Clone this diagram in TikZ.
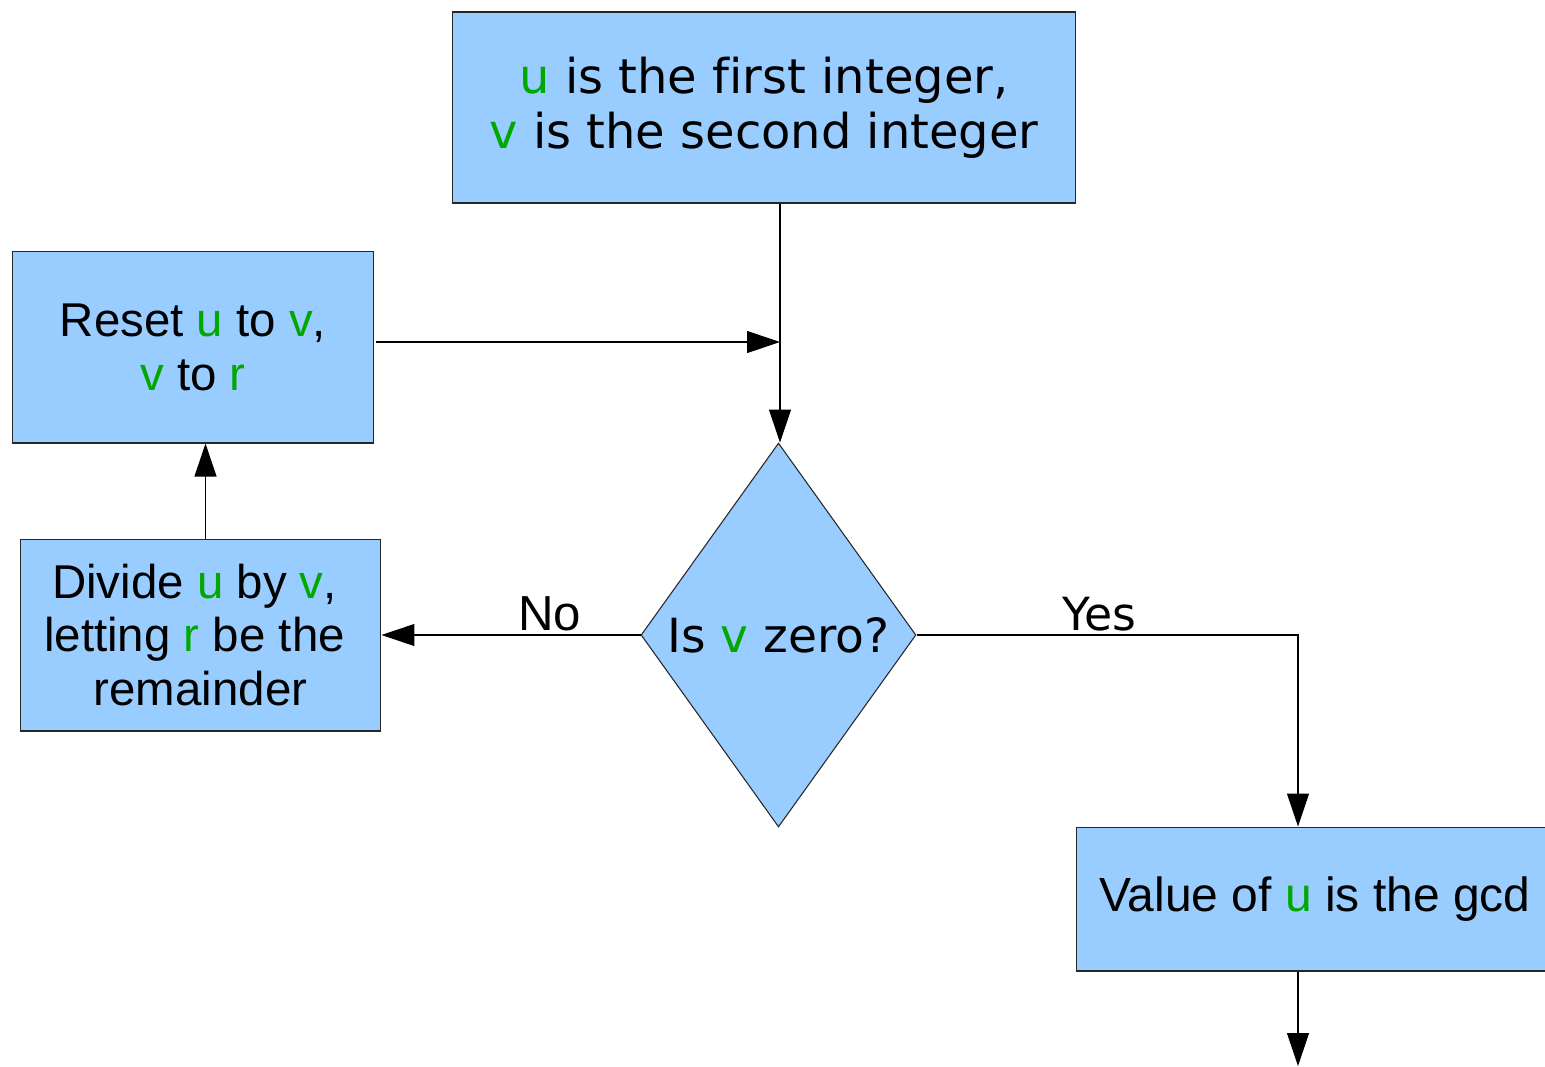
\documentclass[tikz,border=0pt]{standalone}
\usepackage{fontspec}
\setmainfont{Liberation Sans}
\newfontfamily\dejavu[Ligatures=NoCommon]{DejaVu Sans}
\usetikzlibrary{arrows.meta,shapes.geometric}
\definecolor{boxblue}{HTML}{99CCFF}
\definecolor{vargreen}{HTML}{00A800}
\newcommand{\gvar}[1]{\textcolor{vargreen}{#1}}
\newcommand{\tailgap}{\rule{0.24cm}{0pt}}
\tikzset{>={Triangle[length=0.66cm,width=0.44cm]},
    stepbox/.style={draw=black!85, fill=boxblue, line width=0.6pt, align=center, inner sep=0pt,
        font=\fontsize{27}{30.7}\selectfont},
    decision/.style={diamond, aspect=0.716, draw=black!85, fill=boxblue, line width=0.6pt,
        inner sep=0pt, minimum width=5.5cm, minimum height=7.68cm, font=\dejavu\fontsize{26.8}{30}\selectfont},
    flow/.style={->, line width=0.6pt},
    answer/.style={above, inner sep=2pt}}

\begin{document}
\begin{tikzpicture}[x=0.02cm, y=-0.02cm]

    \useasboundingbox (0,0) rectangle (1545,1066);

    % boxes of the loop
    \node[stepbox, minimum width=12.48cm, minimum height=3.82cm,
        font=\dejavu\fontsize{27.3}{31.5}\selectfont] (start) at (764,107.5)
        {\gvar{u} is the first integer,\\ \gvar{v} is the second integer};
    \node[stepbox, minimum width=7.24cm, minimum height=3.84cm] (reset) at (193,347)
        {Reset \gvar{u} to \gvar{v},\\ \gvar{v} to \gvar{r}};
    \node[stepbox, minimum width=7.22cm, minimum height=3.84cm] (divide) at (200.5,635)
        {Divide \gvar{u} by \gvar{v},\tailgap\\ letting \gvar{r} be the\tailgap\\ remainder};
    \node[decision] (test) at (778.5,635) {Is \gvar{v} zero?};
    \node[stepbox, minimum width=9.56cm, minimum height=2.88cm,
        font=\fontsize{27.3}{30.7}\selectfont] (result) at (1315,899)
        {Value of \gvar{u} is the gcd};

    \coordinate (exit) at (1298,1066);

    % connectors
    \draw[flow] ([xshift=0.03cm]start.south -| test.north) -- ([xshift=0.03cm]test.north);
    \draw[flow] ([xshift=0.04cm,yshift=0.1cm]reset.east) -- ([xshift=0.03cm,yshift=0.1cm]reset.east -| test.north);
    \draw[flow] (test.west) -- (divide.east)
        node[answer, pos=0.35, font=\fontsize{28}{30}\selectfont] {No};
    \draw[flow] ([xshift=0.1cm]divide.north) -- ([xshift=0.1cm]divide.north |- reset.south);
    \draw[flow] (test.east) -| ([xshift=-0.34cm]result.north)
        node[answer, pos=0.24, font=\dejavu\fontsize{26}{28}\selectfont] {Yes};
    \draw[flow] (result.south -| exit) -- (exit);

\end{tikzpicture}
\end{document}
